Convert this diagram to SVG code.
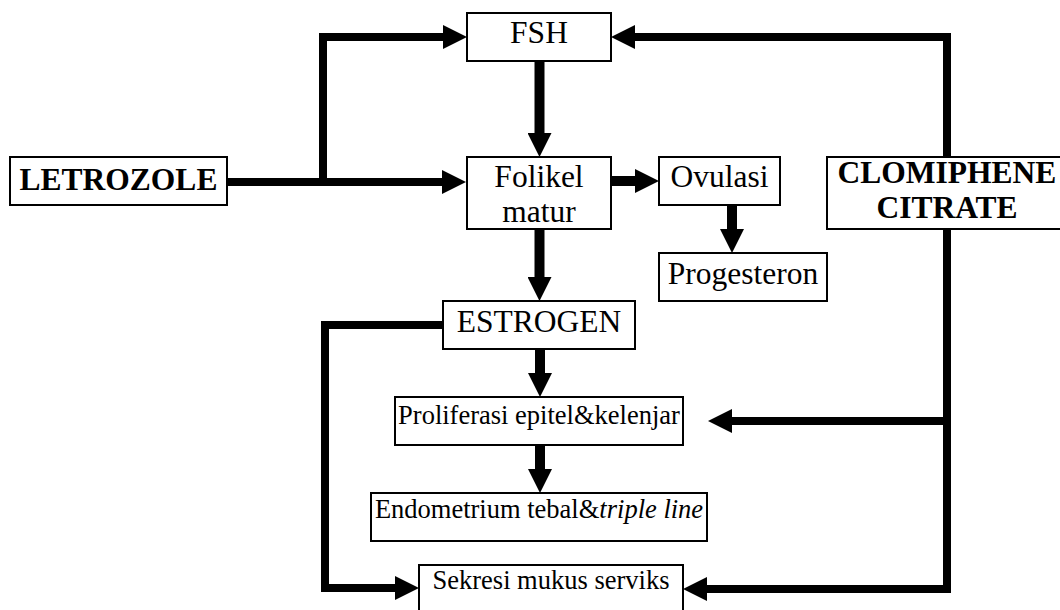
<svg xmlns="http://www.w3.org/2000/svg" width="1060" height="610" viewBox="0 0 1060 610">
  <style>
    .box { fill: #fff; stroke: #000; stroke-width: 2; }
    .t { font-size: 31.5px; fill: #000; text-anchor: middle; }
    .b { font-weight: bold; }
    .s { font-size: 26.5px; }
    .line { fill: none; stroke: #000; stroke-width: 8; stroke-linejoin: miter; }
    .shaft { fill: none; stroke: #000; stroke-width: 10; }
  </style>
  <defs>
    <marker id="ah" viewBox="0 0 24 24" refX="0" refY="12" markerWidth="24" markerHeight="24" markerUnits="userSpaceOnUse" orient="auto">
      <path d="M0,0 L24,12 L0,24 z" fill="#000"/>
    </marker>
  </defs>

  <rect width="1060" height="610" fill="#fff"/>

  <!-- connectors -->
  <g id="connectors">
    <path class="line" d="M227,182 H442" marker-end="url(#ah)"/>
    <path class="line" d="M323,182 V37 H443" marker-end="url(#ah)"/>
    <path class="line" d="M947,157 V37 H635" marker-end="url(#ah)"/>
    <path class="line" d="M947,229 V589 H707" marker-end="url(#ah)"/>
    <path class="line" d="M947,421 H732" marker-end="url(#ah)"/>
    <path class="line" d="M443,325 H325 V588 H395" marker-end="url(#ah)"/>
    <path class="shaft" d="M539.5,61 V133" marker-end="url(#ah)"/>
    <path class="shaft" d="M539.5,229 V277" marker-end="url(#ah)"/>
    <path class="shaft" d="M611,181 H635" marker-end="url(#ah)"/>
    <path class="shaft" d="M732,205 V229" marker-end="url(#ah)"/>
    <path class="shaft" d="M540,349 V373" marker-end="url(#ah)"/>
    <path class="shaft" d="M540,445 V469" marker-end="url(#ah)"/>
  </g>

  <!-- nodes (serif text set on the wrapper) -->
  <g font-family="Liberation Serif, DejaVu Serif, serif">
    <g id="letrozole">
      <rect class="box" x="10" y="157" width="217" height="48"/>
      <text class="t b" x="118.5" y="190">LETROZOLE</text>
    </g>
    <g id="fsh">
      <rect class="box" x="467" y="13" width="144" height="48"/>
      <text class="t" x="539" y="43">FSH</text>
    </g>
    <g id="folikel">
      <rect class="box" x="467" y="157" width="144" height="72"/>
      <text class="t" x="539" y="187">Folikel</text>
      <text class="t" x="539" y="222">matur</text>
    </g>
    <g id="ovulasi">
      <rect class="box" x="659" y="157" width="121" height="48"/>
      <text class="t" x="719.5" y="187">Ovulasi</text>
    </g>
    <g id="progesteron">
      <rect class="box" x="659" y="253" width="168" height="48"/>
      <text class="t" x="743" y="283.5">Progesteron</text>
    </g>
    <g id="clomiphene">
      <rect class="box" x="827" y="157" width="240" height="72"/>
      <text class="t b" x="947" y="183">CLOMIPHENE</text>
      <text class="t b" x="947" y="218">CITRATE</text>
    </g>
    <g id="estrogen">
      <rect class="box" x="443" y="301" width="192" height="48"/>
      <text class="t" x="539" y="332">ESTROGEN</text>
    </g>
    <g id="proliferasi">
      <rect class="box" x="395" y="397" width="288" height="48"/>
      <text class="t s" x="539" y="424">Proliferasi epitel&amp;kelenjar</text>
    </g>
    <g id="endometrium">
      <rect class="box" x="371" y="493" width="336" height="48"/>
      <text class="t s" x="539" y="518">Endometrium tebal&amp;<tspan font-style="italic">triple line</tspan></text>
    </g>
    <g id="sekresi">
      <rect class="box" x="419" y="565" width="264" height="52"/>
      <text class="t s" x="551" y="589">Sekresi mukus serviks</text>
    </g>
  </g>
</svg>
